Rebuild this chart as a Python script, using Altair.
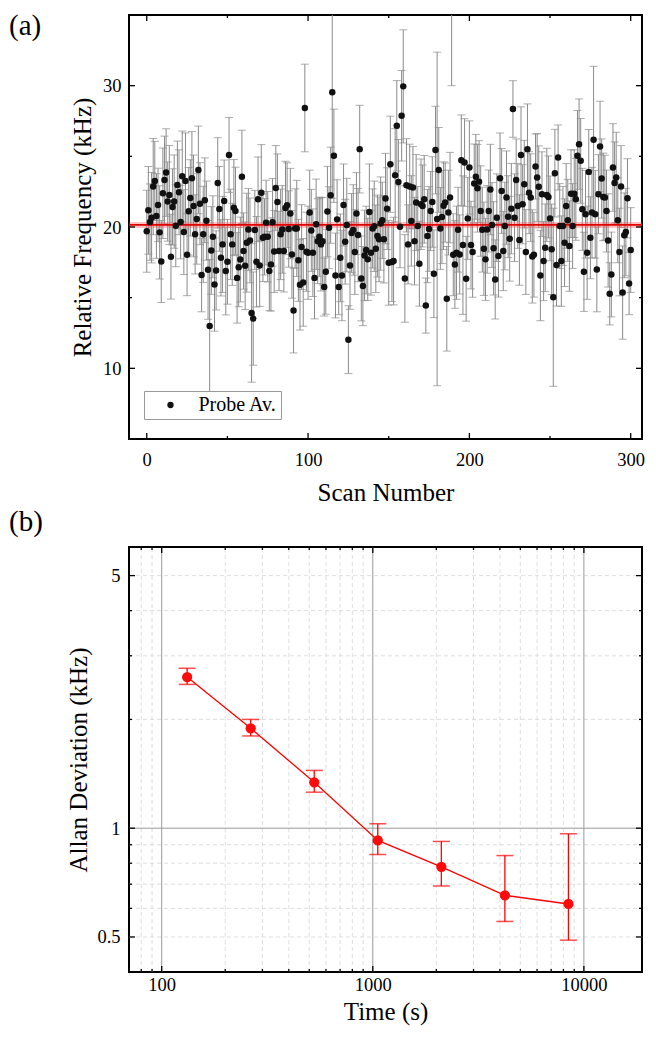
import altair as alt
import pandas as pd

# ---------------- panel (a) data ----------------
probe_values = [
    19.7, 21.18, 20.35, 20.66, 22.86, 23.26, 20.78, 21.56, 19.62, 17.56,
    22.39, 23.33, 23.85, 21.8, 22.27, 17.9, 21.42, 21.8, 20.09, 22.98,
    22.46, 20.35, 23.59, 19.64, 23.26, 18.04, 21.11, 22.06, 23.45, 21.49,
    19.48, 20.57, 24.04, 21.65, 16.6, 19.48, 21.89, 20.45, 16.97, 13.0,
    18.34, 19.31, 15.93, 16.93, 23.12, 21.28, 17.82, 18.77, 21.84, 16.88,
    17.54, 25.1, 19.48, 18.77, 21.37, 21.13, 16.4, 17.16, 17.7, 23.55,
    18.3, 17.26, 18.89, 19.83, 19.05, 13.92, 13.52, 19.79, 17.54, 21.96,
    17.28, 22.43, 19.24, 19.31, 20.31, 19.31, 16.88, 17.35, 20.33, 18.27,
    22.76, 21.77, 18.3, 19.48, 19.83, 18.3, 21.35, 21.54, 19.86, 20.95,
    18.06, 14.09, 19.9, 19.9, 17.64, 15.91, 18.58, 16.08, 28.42, 18.25,
    18.18, 21.02, 19.76,
    18.18, 16.4, 20.19, 19.0, 19.31, 18.77, 19.0, 15.75, 16.83, 21.09,
    19.95, 22.25, 29.53, 25.04, 16.57, 20.54, 15.75, 17.82, 16.57, 21.56,
    18.96, 20.14, 12.03, 17.28, 19.57, 19.79, 18.23, 20.95, 19.43, 25.51,
    16.36, 15.82, 17.99, 18.37, 17.71, 21.06, 18.18, 19.9, 20.05, 18.46,
    19.36, 19.13, 20.24, 20.47, 19.13, 22.01, 21.3, 17.47, 24.44, 17.52,
    17.59, 23.66, 27.16,
    23.19, 20.02, 27.87, 29.95, 16.36, 22.95, 18.77, 22.86, 20.43, 22.79,
    19.0, 21.73, 20.07, 17.4, 21.61, 21.49, 21.96, 14.44, 19.36, 19.86,
    21.13, 21.77, 16.69, 25.44, 20.57, 24.04, 19.9, 20.71, 21.51, 21.73,
    14.92, 21.02, 22.08, 37.5, 18.04, 17.35, 18.18, 19.81, 18.06, 24.73,
    18.72, 24.56, 16.34, 20.61, 24.21, 18.72, 18.23, 23.07, 23.55, 22.74,
    23.21, 21.13, 19.81, 18.46, 17.71,
    19.83, 21.13, 22.65, 20.14, 18.49, 16.29, 20.66, 17.94, 23.45, 22.55,
    18.3, 20.07, 22.08, 20.73, 19.17, 21.3, 28.35, 20.66, 23.33, 21.49,
    19.08, 25.1, 21.61, 23.03, 18.23, 25.51, 22.43, 22.08, 17.92, 18.04,
    24.28, 23.5, 22.84, 16.57, 22.32, 17.59, 18.53, 22.27, 22.13, 20.61,
    18.42, 15.03, 23.81, 17.31, 24.92, 20.07, 17.59, 20.07, 18.89, 21.49,
    20.47, 18.65, 22.36,
    20.07, 22.36, 21.96, 25.04, 25.86, 24.68, 21.25, 16.83, 20.9, 18.18,
    23.9, 19.24, 21.02, 26.17, 20.9, 17.0, 22.32, 25.7, 23.43, 22.13,
    22.08, 21.13, 19.05, 15.27, 16.64, 24.21, 23.12, 23.5, 20.47, 18.23,
    22.86, 15.36, 19.41, 19.64, 22.03, 16.0, 18.37,
]

probe_errors = [
    2.9, 3.1, 2.7, 3.2, 3.4, 2.8, 3.0, 2.6, 3.3, 2.9,
    3.2, 3.1, 3.1, 2.8, 3.5, 3.0, 2.7, 3.3, 2.9, 3.1,
    3.0, 2.6, 3.2, 3.0, 3.4, 2.9, 3.1, 2.7, 3.3, 3.6,
    2.8, 3.2, 3.1, 2.9, 2.6, 3.4, 3.0, 2.8, 3.5, 4.7,
    3.1, 2.9, 3.3, 2.8, 3.2, 3.0, 2.7, 3.4, 2.9, 3.1,
    3.0, 2.65, 3.2, 2.9, 3.4, 3.1, 3.2, 2.8, 3.0, 3.3,
    2.7, 3.1, 3.5, 2.9, 3.0, 4.9, 3.3, 2.8, 3.2, 3.0,
    2.9, 3.4, 3.1, 2.7, 3.0, 3.2, 2.8, 3.3, 3.1, 2.9,
    3.0, 3.4, 2.8, 3.2, 3.1, 2.9, 3.3, 3.0, 2.7, 3.2,
    3.1, 3.0, 2.8, 3.4, 2.9, 3.2, 3.0, 3.1, 3.1, 2.8,
    3.3, 3.0, 2.9,
    3.1, 2.9, 3.2, 3.0, 2.8, 3.3, 3.1, 2.05, 3.0, 3.2,
    2.9, 3.4, 7.5, 3.3, 3.0, 2.8, 1.95, 3.1, 3.2, 2.9,
    3.0, 3.3, 2.4, 3.1, 2.8, 3.2, 3.0, 2.9, 3.3, 3.1,
    3.0, 2.8, 3.2, 3.1, 2.9, 3.4, 3.0, 2.8, 3.2, 3.1,
    2.9, 3.0, 3.3, 2.7, 3.1, 3.2, 2.9, 3.0, 3.4, 2.8,
    3.1, 3.3, 3.2,
    3.0, 2.9, 3.2, 4.0, 3.1, 3.3, 2.8, 3.0, 3.2, 2.9,
    3.1, 3.4, 2.8, 3.0, 3.2, 2.9, 3.1, 1.95, 3.3, 3.0,
    2.8, 3.2, 3.1, 3.1, 11.8, 3.0, 2.9, 3.3, 3.1, 2.8,
    3.7, 3.0, 3.2, 7.5, 2.9, 3.1, 3.3, 3.0, 2.8, 3.2,
    4.9, 3.1, 3.0, 2.9, 3.3, 3.1, 3.2, 2.8, 3.0, 3.1,
    2.9, 3.2, 3.0, 3.3, 2.9,
    3.1, 2.9, 3.2, 3.0, 3.3, 2.8, 3.1, 2.9, 3.2, 3.0,
    2.8, 3.1, 3.3, 2.9, 3.0, 3.2, 2.0, 3.1, 2.9, 3.0,
    3.2, 3.4, 2.8, 3.1, 3.0, 3.2, 2.9, 3.1, 3.3, 3.0,
    2.3, 3.1, 2.9, 3.2, 3.0, 2.8, 3.1, 3.3, 2.9, 3.0,
    3.2, 6.3, 3.1, 2.9, 2.3, 3.0, 3.2, 2.8, 3.1, 3.0,
    2.9, 3.2, 3.1,
    3.0, 3.1, 2.9, 3.2, 3.2, 3.0, 2.9, 2.8, 3.1, 3.3,
    3.0, 2.9, 3.2, 5.2, 3.1, 3.0, 2.8, 3.2, 2.8, 3.1,
    3.0, 2.9, 3.3, 2.2, 3.0, 3.1, 2.9, 3.2, 3.0, 3.1,
    2.9, 3.3, 3.0, 3.1, 2.8, 2.2, 3.0,
]

mean_level = [20.15]
series_name = "Probe Av."
scan_domain = [-11, 307]
freq_domain = [5, 35]
scan_ticks_major = [0, 100, 200, 300]
scan_ticks_minor = [50, 150, 250]
freq_ticks_major = [10, 20, 30]
freq_ticks_minor = [15, 25]

# ---------------- panel (b) data ----------------
tau = [132, 264, 528, 1056, 2112, 4224, 8448]
adev = [2.62, 1.89, 1.34, 0.925, 0.782, 0.652, 0.617]
adev_low = [2.50, 1.80, 1.258, 0.846, 0.692, 0.552, 0.49]
adev_high = [2.77, 2.00, 1.445, 1.028, 0.919, 0.84, 0.965]
time_domain = [70, 18850]
adev_domain = [0.4, 6]
time_ticks_major = [100, 1000, 10000]
time_ticks_minor = [80, 90, 200, 300, 400, 500, 600, 700, 800, 900,
                    2000, 3000, 4000, 5000, 6000, 7000, 8000, 9000]
adev_ticks_major = [0.5, 1, 5]
adev_ticks_minor = [0.6, 0.7, 0.8, 0.9, 2, 3, 4]
adev_grid_major = [1]
adev_grid_minor = [0.5, 0.6, 0.7, 0.8, 0.9, 2, 3, 4, 5]

FONT = "Liberation Serif"
W = 513
H_TOP = 424
H_BOT = 425


# ---------------- helpers ----------------
def tick_rules(values, channel, xs, ys, xdom, ydom, orient, size):
    df = pd.DataFrame({"v": values})
    if channel == "x":
        edge = ydom[0] if orient == "bottom" else ydom[1]
        off = -size if orient == "bottom" else size
        mark = alt.Chart(df).mark_rule(color="black", strokeWidth=1.3, yOffset=off, clip=True)
        return mark.encode(x=alt.X("v:Q", scale=xs, axis=None),
                           y=alt.YDatum(edge, scale=ys, axis=None), y2=alt.Y2Datum(edge))
    edge = xdom[0] if orient == "left" else xdom[1]
    off = size if orient == "left" else -size
    mark = alt.Chart(df).mark_rule(color="black", strokeWidth=1.3, xOffset=off, clip=True)
    return mark.encode(y=alt.Y("v:Q", scale=ys, axis=None),
                       x=alt.XDatum(edge, scale=xs, axis=None), x2=alt.X2Datum(edge))


def all_ticks(xs, ys, xdom, ydom, xmaj, xmin, ymaj, ymin):
    out = []
    for orient in ["bottom", "top"]:
        out.append(tick_rules(xmaj, "x", xs, ys, xdom, ydom, orient, 6))
        out.append(tick_rules(xmin, "x", xs, ys, xdom, ydom, orient, 3))
    for orient in ["left", "right"]:
        out.append(tick_rules(ymaj, "y", xs, ys, xdom, ydom, orient, 6))
        out.append(tick_rules(ymin, "y", xs, ys, xdom, ydom, orient, 3))
    return out


def panel_label(text, xs, ys, xdom, ydom, dx, dy):
    return alt.Chart(pd.DataFrame({"t": [text]})).mark_text(
        align="left", baseline="top", font=FONT, fontSize=29, color="black", dx=dx, dy=dy
    ).encode(text="t:N",
             x=alt.XDatum(xdom[0], scale=xs, axis=None),
             y=alt.YDatum(ydom[1], scale=ys, axis=None))


# ---------------- panel (a) ----------------
dfa = pd.DataFrame({"value": probe_values, "err": probe_errors})
dfa["scan"] = range(len(dfa))
dfa["lo"] = dfa["value"] - dfa["err"]
dfa["hi"] = dfa["value"] + dfa["err"]
dfa["series"] = series_name

xa = alt.Scale(domain=scan_domain, nice=False, zero=False)
ya = alt.Scale(domain=freq_domain, nice=False, zero=False)

bars_a = alt.Chart(dfa).mark_rule(color="#8a8a8a", strokeWidth=1, clip=True).encode(
    x=alt.X("scan:Q", scale=xa, axis=alt.Axis(
        orient="bottom", values=scan_ticks_major, format="d", title="Scan Number",
        ticks=False, domain=False, grid=False, labelPadding=11, titlePadding=12)),
    y=alt.Y("lo:Q", scale=ya, axis=alt.Axis(
        orient="left", values=freq_ticks_major, format="d", title="Relative Frequency (kHz)",
        ticks=False, domain=False, grid=False, labelPadding=8, titlePadding=7)),
    y2="hi:Q",
)
caps_a = alt.Chart(dfa).transform_fold(["lo", "hi"], as_=["k", "v"]).mark_tick(
    orient="horizontal", size=8, thickness=1, color="#8a8a8a", clip=True
).encode(x=alt.X("scan:Q", scale=xa, axis=None), y=alt.Y("v:Q", scale=ya, axis=None))

mean_df = pd.DataFrame({"m": mean_level})
halo_a = alt.Chart(mean_df).mark_rule(color="#ff5050", strokeWidth=6, opacity=0.35, clip=True).encode(
    x=alt.XDatum(scan_domain[0], scale=xa, axis=None), x2=alt.X2Datum(scan_domain[1]),
    y=alt.Y("m:Q", scale=ya, axis=None))
line_a = alt.Chart(mean_df).mark_rule(color="#e00000", strokeWidth=1.8, clip=True).encode(
    x=alt.XDatum(scan_domain[0], scale=xa, axis=None), x2=alt.X2Datum(scan_domain[1]),
    y=alt.Y("m:Q", scale=ya, axis=None))

points_a = alt.Chart(dfa).mark_circle(size=42, opacity=1, clip=True).encode(
    x=alt.X("scan:Q", scale=xa, axis=None),
    y=alt.Y("value:Q", scale=ya, axis=None),
    color=alt.Color("series:N", scale=alt.Scale(domain=[series_name], range=["#111111"]),
                    legend=alt.Legend(title=None, orient="none", legendX=15, legendY=376,
                                      strokeColor="#999999", fillColor="white", padding=4,
                                      symbolOffset=12.5, labelOffset=18, symbolSize=40,
                                      labelFont=FONT, labelFontSize=20, labelColor="black")),
)

top = alt.layer(
    bars_a, caps_a, halo_a, line_a, points_a,
    *all_ticks(xa, ya, scan_domain, freq_domain, scan_ticks_major, scan_ticks_minor,
               freq_ticks_major, freq_ticks_minor),
    panel_label("(a)", xa, ya, scan_domain, freq_domain, -120, -3),
).resolve_axis(x="independent", y="independent").properties(width=W, height=H_TOP)

# ---------------- panel (b) ----------------
dfb = pd.DataFrame({"tau": tau, "adev": adev, "lo": adev_low, "hi": adev_high})
xb = alt.Scale(type="log", domain=time_domain, nice=False)
yb = alt.Scale(type="log", domain=adev_domain, nice=False)


def vgrid(values, color, width, dash=None):
    kw = dict(color=color, strokeWidth=width, clip=True)
    if dash:
        kw["strokeDash"] = dash
    return alt.Chart(pd.DataFrame({"v": values})).mark_rule(**kw).encode(
        x=alt.X("v:Q", scale=xb, axis=None),
        y=alt.YDatum(adev_domain[0], scale=yb, axis=None), y2=alt.Y2Datum(adev_domain[1]))


def hgrid(values, color, width, dash=None):
    kw = dict(color=color, strokeWidth=width, clip=True)
    if dash:
        kw["strokeDash"] = dash
    return alt.Chart(pd.DataFrame({"v": values})).mark_rule(**kw).encode(
        y=alt.Y("v:Q", scale=yb, axis=None),
        x=alt.XDatum(time_domain[0], scale=xb, axis=None), x2=alt.X2Datum(time_domain[1]))


grid_minor_x = vgrid(time_ticks_minor, "#d6d6d6", 0.8, [4, 3])
grid_minor_y = hgrid(adev_grid_minor, "#d6d6d6", 0.8, [4, 3])
grid_major_x = vgrid(time_ticks_major, "#999999", 1)
grid_major_y = hgrid(adev_grid_major, "#999999", 1)

line_b = alt.Chart(dfb).mark_line(color="#ff0000", strokeWidth=1.3).encode(
    x=alt.X("tau:Q", scale=xb, axis=alt.Axis(
        orient="bottom", values=time_ticks_major, format="d", title="Time (s)",
        ticks=False, domain=False, grid=False, labelPadding=3, titlePadding=6)),
    y=alt.Y("adev:Q", scale=yb, axis=alt.Axis(
        orient="left", values=adev_ticks_major, format="~g", title="Allan Deviation (kHz)",
        ticks=False, domain=False, grid=False, labelPadding=9, titlePadding=5)),
)
bars_b = alt.Chart(dfb).mark_rule(color="#ff0000", strokeWidth=1.3).encode(
    x=alt.X("tau:Q", scale=xb, axis=None),
    y=alt.Y("lo:Q", scale=yb, axis=None), y2="hi:Q")
caps_b = alt.Chart(dfb).transform_fold(["lo", "hi"], as_=["k", "v"]).mark_tick(
    orient="horizontal", size=17, thickness=1.5, color="#ff0000"
).encode(x=alt.X("tau:Q", scale=xb, axis=None), y=alt.Y("v:Q", scale=yb, axis=None))
points_b = alt.Chart(dfb).mark_circle(size=105, color="#ff0a0a", opacity=1).encode(
    x=alt.X("tau:Q", scale=xb, axis=None), y=alt.Y("adev:Q", scale=yb, axis=None))

bottom = alt.layer(
    grid_minor_x, grid_minor_y, grid_major_x, grid_major_y,
    line_b, bars_b, caps_b, points_b,
    *all_ticks(xb, yb, time_domain, adev_domain, time_ticks_major, time_ticks_minor,
               adev_ticks_major, adev_ticks_minor),
    panel_label("(b)", xb, yb, time_domain, adev_domain, -120, -39),
).resolve_axis(x="independent", y="independent").properties(width=W, height=H_BOT)

chart = alt.vconcat(top, bottom, spacing=0).properties(
    padding={"top": 3, "left": 0, "right": 0, "bottom": 0}
).configure_view(
    stroke="black", strokeWidth=2
).configure_axis(
    labelFont=FONT, labelFontSize=18.5, labelColor="black",
    titleFont=FONT, titleFontSize=25, titleFontWeight="normal", titleColor="black",
).configure_legend(symbolType="circle")

chart.save("out.html", embed_options={"renderer": "svg", "actions": False})
